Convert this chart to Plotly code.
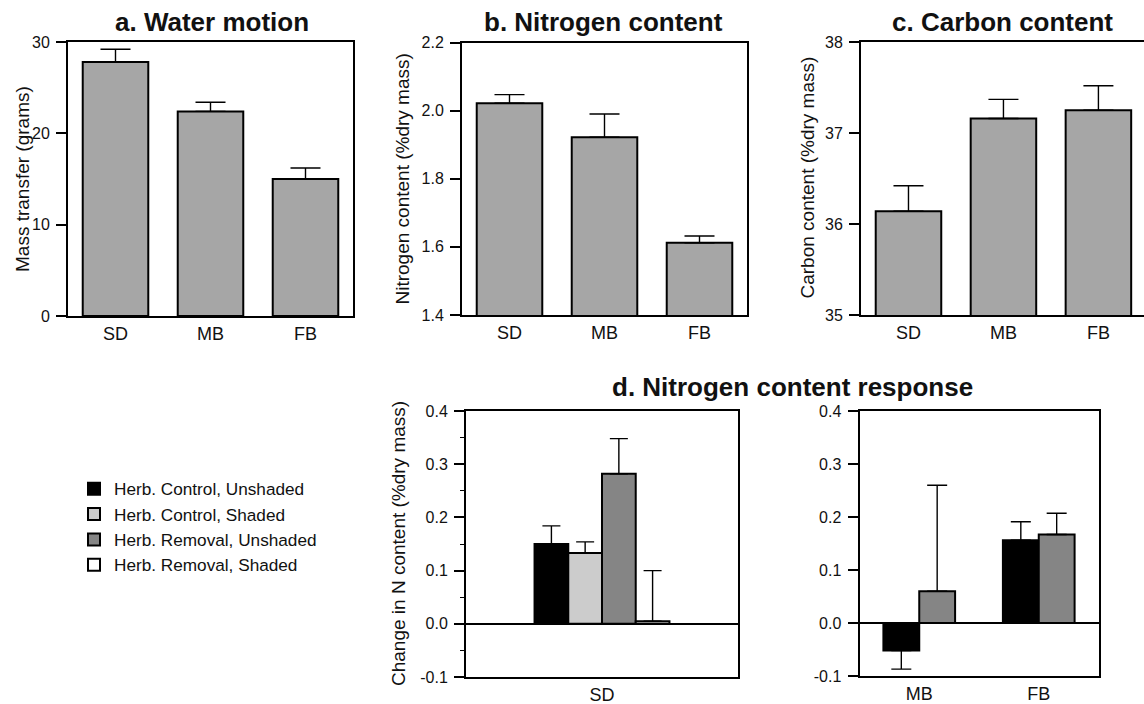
import plotly.graph_objects as go

# ---------------- data ----------------
sites = ["SD", "MB", "FB"]
water_motion = [27.8, 22.4, 15.0]
water_motion_se = [1.4, 1.0, 1.2]
nitrogen = [2.022, 1.922, 1.612]
nitrogen_se = [0.025, 0.068, 0.020]
carbon = [36.14, 37.16, 37.25]
carbon_se = [0.28, 0.21, 0.27]

treatments = ["Herb. Control, Unshaded", "Herb. Control, Shaded",
              "Herb. Removal, Unshaded", "Herb. Removal, Shaded"]
treatment_colors = ["#000000", "#cccccc", "#858585", "#ffffff"]
sd_site = ["SD"]
sd_response = [0.150, 0.133, 0.282, 0.005]
sd_response_se = [0.034, 0.021, 0.066, 0.095]
other_sites = ["MB", "FB"]
ctrl_unshaded_response = [-0.052, 0.156]
ctrl_unshaded_se = [0.035, 0.035]
removal_unshaded_response = [0.060, 0.167]
removal_unshaded_se = [0.200, 0.040]

d_ticks = [-0.1, 0.0, 0.1, 0.2, 0.3, 0.4]
d_ticklabels = ["-0.1", "0.0", "0.1", "0.2", "0.3", "0.4"]

# ---------------- layout helpers ----------------
W, H = 1144, 704
FONT = "Liberation Sans, Arial, Helvetica, sans-serif"
BAR_GRAY = "#a6a6a6"


def dx(a, b):
    return [a / W, min(b / W, 1.0)]


def dy(top, bottom):
    return [1 - bottom / H, 1 - top / H]


def err(values, se, cap):
    up = [s if v >= 0 else 0 for v, s in zip(values, se)]
    down = [s if v < 0 else 0 for v, s in zip(values, se)]
    return dict(type="data", symmetric=False, array=up, arrayminus=down,
                color="black", thickness=1.4, width=cap)


fig = go.Figure()

# panels a, b, c
for i, (vals, se) in enumerate([(water_motion, water_motion_se),
                                 (nitrogen, nitrogen_se),
                                 (carbon, carbon_se)]):
    n = "" if i == 0 else str(i + 1)
    fig.add_trace(go.Bar(
        x=sites, y=vals, width=0.69,
        marker=dict(color=BAR_GRAY, line=dict(color="black", width=2)),
        error_y=err(vals, se, 15),
        xaxis="x" + n, yaxis="y" + n, showlegend=False))

# panel d - left (SD)
d_width_left = 0.124
for k, name in enumerate(treatments):
    fig.add_trace(go.Bar(
        x=sd_site, y=[sd_response[k]], name=name,
        width=d_width_left, offset=-2 * d_width_left + k * d_width_left,
        marker=dict(color=treatment_colors[k], line=dict(color="black", width=2)),
        error_y=err([sd_response[k]], [sd_response_se[k]], 9),
        xaxis="x4", yaxis="y4", showlegend=True))

# panel d - right (MB, FB)
d_width_right = 0.30
for k, (vals, se) in enumerate([(ctrl_unshaded_response, ctrl_unshaded_se),
                                (removal_unshaded_response, removal_unshaded_se)]):
    fig.add_trace(go.Bar(
        x=other_sites, y=vals, name=treatments[2 * k],
        width=d_width_right, offset=-d_width_right + k * d_width_right,
        marker=dict(color=treatment_colors[2 * k], line=dict(color="black", width=2)),
        error_y=err(vals, se, 10),
        xaxis="x5", yaxis="y5", showlegend=False))

xcommon = dict(type="category", showline=True, linecolor="black", linewidth=2,
               mirror=True, showgrid=False, zeroline=False, ticks="",
               tickfont=dict(size=18, color="#111", family=FONT), fixedrange=True)
ycommon = dict(showline=True, linecolor="black", linewidth=2, mirror=True,
               showgrid=False, zeroline=False, ticks="outside", ticklen=10,
               tickwidth=1.5, tickcolor="black", ticklabelstandoff=3,
               tickfont=dict(size=16, color="#111", family=FONT), fixedrange=True)

dom_a = (dx(68, 353), dy(42, 316))
dom_b = (dx(462, 747), dy(42.5, 315))
dom_c = (dx(861, 1144), dy(42, 315))
dom_dl = (dx(466, 738), dy(411, 677))
dom_dr = (dx(859.5, 1098.5), dy(411, 676))

fig.update_layout(
    width=W, height=H,
    margin=dict(l=0, r=0, t=0, b=0, autoexpand=False),
    paper_bgcolor="white", plot_bgcolor="white",
    font=dict(family=FONT, color="#111"),
    barmode="overlay",
    xaxis=dict(xcommon, domain=dom_a[0], anchor="y", range=[-0.5, 2.5]),
    yaxis=dict(ycommon, domain=dom_a[1], anchor="x", range=[0, 30], dtick=10),
    xaxis2=dict(xcommon, domain=dom_b[0], anchor="y2", range=[-0.5, 2.5]),
    yaxis2=dict(ycommon, domain=dom_b[1], anchor="x2", range=[1.4, 2.2],
                dtick=0.2, tickformat=".1f"),
    xaxis3=dict(xcommon, domain=dom_c[0], anchor="y3", range=[-0.5, 2.48]),
    yaxis3=dict(ycommon, domain=dom_c[1], anchor="x3", range=[35, 38], dtick=1,
                mirror=False),
    xaxis4=dict(xcommon, domain=dom_dl[0], anchor="y4", range=[-0.5, 0.5]),
    yaxis4=dict(ycommon, domain=dom_dl[1], anchor="x4", range=[-0.1, 0.4],
                tickvals=d_ticks, ticktext=d_ticklabels,
                zeroline=True, zerolinecolor="black", zerolinewidth=2,
                minor=dict(ticks="outside", ticklen=4, tickwidth=1.2,
                           tickcolor="black", dtick=0.05, showgrid=False)),
    xaxis5=dict(xcommon, domain=dom_dr[0], anchor="y5", range=[-0.5, 1.5]),
    yaxis5=dict(ycommon, domain=dom_dr[1], anchor="x5", range=[-0.1, 0.4],
                tickvals=d_ticks, ticktext=d_ticklabels,
                zeroline=True, zerolinecolor="black", zerolinewidth=2),
    legend=dict(x=74 / W, y=1 - 471 / H, xanchor="left", yanchor="top",
                font=dict(size=17.2, color="#111", family=FONT),
                bgcolor="rgba(0,0,0,0)", borderwidth=0, traceorder="normal"),
)

titles = [("a. Water motion", 211.5, 22), ("b. Nitrogen content", 603, 22),
          ("c. Carbon content", 1002.5, 22), ("d. Nitrogen content response", 792.5, 387)]
for text, cx, cy in titles:
    fig.add_annotation(text=text, x=cx / W, y=1 - cy / H, xref="paper", yref="paper",
                       xanchor="center", yanchor="middle", showarrow=False,
                       font=dict(size=26, weight="bold", color="#111", family=FONT))

ytitles = [("Mass transfer (grams)", 22, 179),
           ("Nitrogen content (%dry mass)", 401.5, 179),
           ("Carbon content (%dry mass)", 806.5, 178),
           ("Change in N content (%dry mass)", 398, 544)]
for text, cx, cy in ytitles:
    fig.add_annotation(text=text, x=cx / W, y=1 - cy / H, xref="paper", yref="paper",
                       xanchor="center", yanchor="middle", showarrow=False,
                       textangle=-90,
                       font=dict(size=19, color="#111", family=FONT))

fig.write_html("out.html",
               config={"displayModeBar": False},
               post_script="document.body.style.margin='0px';"
                           "document.body.style.overflow='hidden';")
